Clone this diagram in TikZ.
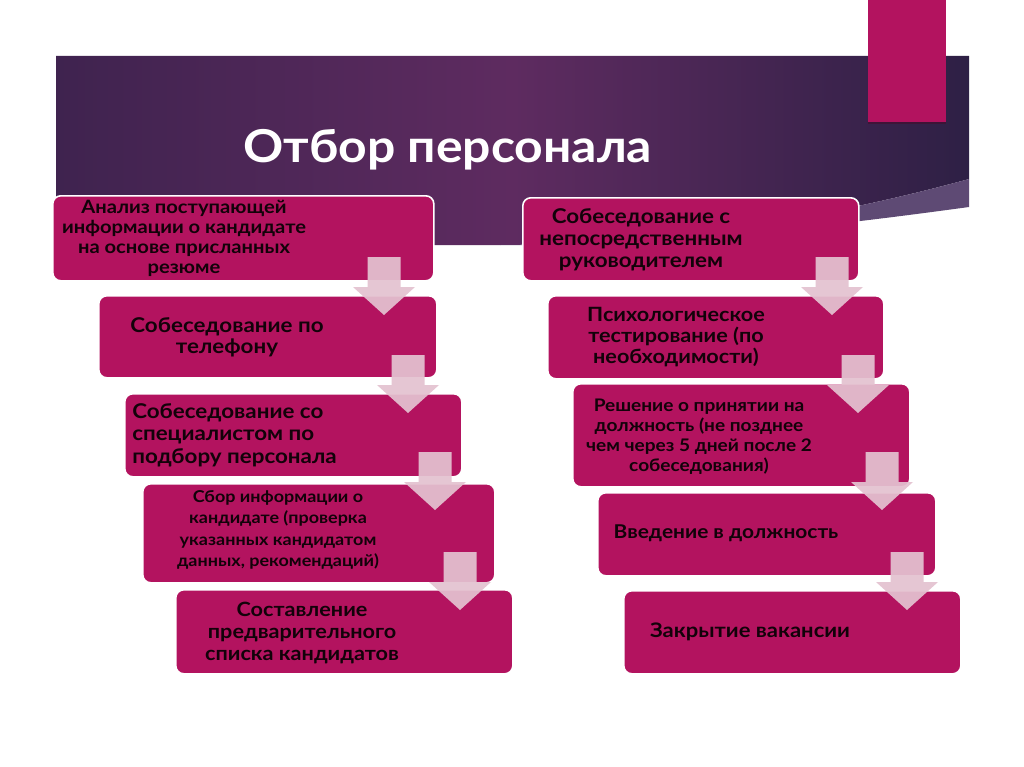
\documentclass[tikz,border=0pt]{standalone}
\usepackage{fontspec}
\setmainfont{Lato}[FakeStretch=1.10]
\definecolor{mag}{HTML}{B3135F}
\definecolor{arrc}{HTML}{E4C2D0}
\definecolor{stripec}{HTML}{5E4A74}
\definecolor{bandL}{HTML}{3F234F}
\definecolor{bandM}{HTML}{5E2B60}
\definecolor{bandR}{HTML}{2E2045}
\tikzset{
  pbox/.style={draw=white, line width=1.2pt, fill=mag, rounded corners=6pt, inner sep=0pt, anchor=north west},
  txt/.style={text=black!90!mag, inner sep=0pt, align=center},
  darr/.pic={\fill[arrc, opacity=0.93] (-16.5,0) -- (16.5,0) -- (16.5,30) -- (31,30) -- (0,58) -- (-31,30) -- (-16.5,30) -- cycle;}
}
\newcommand\bx[5]{\node[pbox, minimum width={(#4-#2)*0.75pt}, minimum height={(#5-#3)*0.75pt}] (#1) at (#2,#3) {};}
\begin{document}
\begin{tikzpicture}[x=0.75pt, y=-0.75pt]
\useasboundingbox (0,0) rectangle (1024,767);
\fill[white] (0,0) rectangle (1024,767);
% header band
\shade[left color=bandL, right color=bandR, middle color=bandM]
  (56,56) -- (969,56) -- (969,179) .. controls (800,225) and (650,244) .. (500,245) -- (56,245) -- cycle;
\fill[stripec] (969,179) .. controls (800,225) and (650,244) .. (500,245) .. controls (660,246) and (830,226) .. (969,207) -- cycle;
% pink accent
\fill[black!60!mag, opacity=0.5] (868,0) rectangle (946,124);
\fill[mag] (868,0) rectangle (946,122);
\node[anchor=base west, text=white, inner sep=0pt, font=\bfseries\fontsize{34}{38}\selectfont] (title) at (243,162) {Отбор персонала};
% boxes
\bx{L1}{52}{195}{433}{280}
\bx{L2}{98}{295}{436}{377}
\bx{L3}{124}{393}{461}{476}
\bx{L4}{142}{483}{494}{582}
\bx{L5}{175}{589}{512}{673}
\bx{R1}{522}{197}{858}{280}
\bx{R2}{547}{295}{883}{378}
\bx{R3}{572}{383}{909}{486}
\bx{R4}{597}{492}{935}{575}
\bx{R5}{623}{590}{960}{673}
% arrows
\pic at (384,257) {darr};
\pic at (408,355) {darr};
\pic at (435,452) {darr};
\pic at (460,552) {darr};
\pic at (832,257) {darr};
\pic at (858,355) {darr};
\pic at (882,452) {darr};
\pic at (907,552) {darr};
% texts
\node[txt, font=\bfseries\fontsize{13.75}{15}\selectfont] (tL1) at (184,238) {Анализ поступающей\\информации о кандидате\\на основе присланных\\резюме};
\node[txt, font=\bfseries\fontsize{15.25}{16}\selectfont] (tL2) at (227,337) {Собеседование по\\телефону};
\node[txt, align=left, anchor=west, font=\bfseries\fontsize{15.25}{17}\selectfont] (tL3) at (132,435) {Собеседование со\\специалистом по\\подбору персонала};
\node[txt, font=\bfseries\fontsize{12.25}{16}\selectfont] (tL4) at (278,530) {Сбор информации о\\кандидате (проверка\\указанных кандидатом\\данных, рекомендаций)};
\node[txt, font=\bfseries\fontsize{14.75}{16.5}\selectfont] (tL5) at (302,633) {Составление\\предварительного\\списка кандидатов};
\node[txt, font=\bfseries\fontsize{15.25}{16.5}\selectfont] (tR1) at (641,240) {Собеседование с\\непосредственным\\руководителем};
\node[txt, font=\bfseries\fontsize{14.75}{16}\selectfont] (tR2) at (676,337) {Психологическое\\тестирование (по\\необходимости)};
\node[txt, font=\bfseries\fontsize{13}{15}\selectfont] (tR3) at (699,437) {Решение о принятии на\\должность (не позднее\\чем через 5 дней после 2\\собеседования)};
\node[txt, font=\bfseries\fontsize{14.25}{16}\selectfont] (tR4) at (726,533) {Введение в должность};
\node[txt, font=\bfseries\fontsize{15}{16}\selectfont] (tR5) at (750,632) {Закрытие вакансии};
\end{tikzpicture}
\end{document}
